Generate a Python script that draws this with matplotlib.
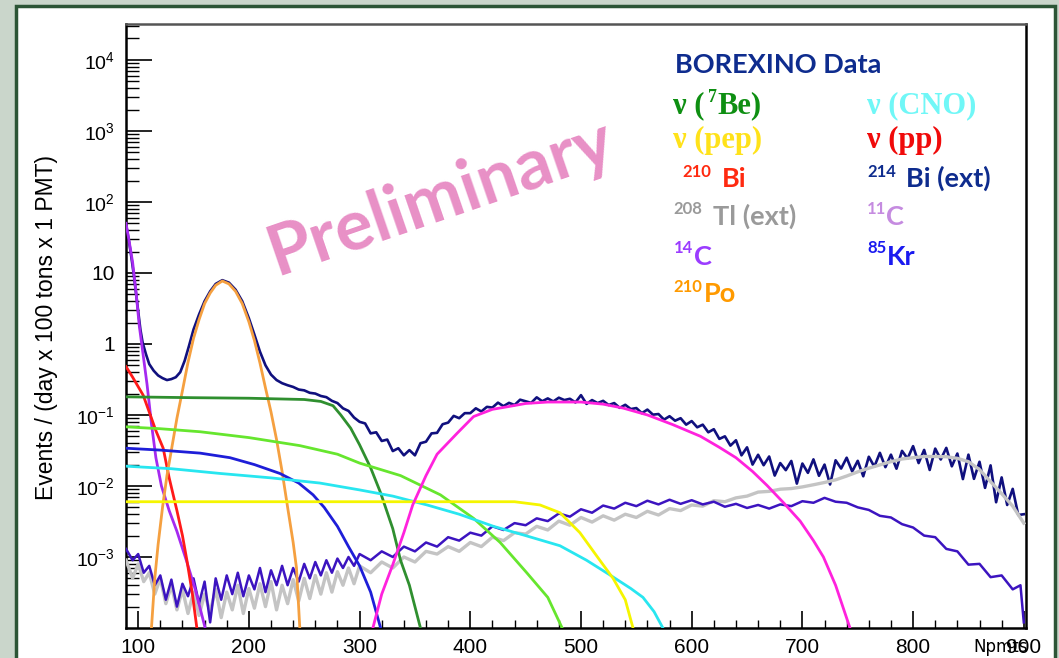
import matplotlib
matplotlib.use("Agg")
import matplotlib.pyplot as plt
from matplotlib.patches import Rectangle
from matplotlib.ticker import FixedLocator, FixedFormatter, MultipleLocator, LogLocator, NullFormatter

plt.rcParams['font.family'] = ['Liberation Sans', 'DejaVu Sans']

# ---- data ----
# BOREXINO data (Npmts, events)
data_x = [90, 92, 94, 96, 98, 100, 102, 104, 107, 110, 114, 118, 122, 126, 130, 134, 138, 142, 146, 150,
          155, 160, 165, 170, 176, 182, 188, 194, 200, 205, 210, 215, 220, 225, 230, 235, 240, 245, 250,
          255, 260, 265, 270, 275, 280, 285, 290, 295,
          300, 305, 310, 315, 320, 325, 330, 335, 340, 345, 350, 355, 360, 365, 370, 375, 380, 385, 390,
          395, 400, 405, 410, 415, 420, 425, 430, 435, 440, 445, 450, 455, 460, 465, 470, 475, 480, 485,
          490, 495, 500, 505, 510, 515, 520, 525, 530, 535, 540, 545, 550, 555, 560, 565, 570, 575, 580,
          585, 590, 595, 600, 605, 610, 615, 620, 625, 630, 635, 640, 645, 650, 655, 660, 665, 670, 675,
          680, 685, 690, 695, 700, 705, 710, 715, 720, 725, 730, 735, 740, 745, 750, 755, 760, 765, 770,
          775, 780, 785, 790, 795, 800, 805, 810, 815, 820, 825, 830, 835, 840, 845, 850, 855, 860, 865,
          870, 875, 880, 885, 890, 895, 900]
data_y = [40, 26, 16, 9.5, 5.2, 2.8, 1.6, 1.05, 0.72, 0.52, 0.42, 0.36, 0.33, 0.31, 0.32, 0.34, 0.40, 0.58, 0.95, 1.6,
          2.6, 4.0, 5.5, 7.0, 7.9, 7.3, 5.8, 4.0, 2.3, 1.35, 0.78, 0.5, 0.37, 0.31, 0.28, 0.262, 0.248, 0.228, 0.222,
          0.205, 0.2, 0.185, 0.178, 0.158, 0.147, 0.124, 0.114, 0.092,
          0.080, 0.076, 0.055, 0.057, 0.043, 0.045, 0.031, 0.034, 0.027, 0.032, 0.027, 0.040, 0.042, 0.055, 0.056,
          0.074, 0.078, 0.097, 0.090, 0.106, 0.106, 0.124, 0.112, 0.130, 0.127, 0.149, 0.133, 0.148, 0.138, 0.164,
          0.156, 0.148, 0.177, 0.156, 0.171, 0.155, 0.175, 0.162, 0.169, 0.150, 0.190, 0.143, 0.162, 0.147, 0.158,
          0.138, 0.147, 0.126, 0.139, 0.121, 0.125, 0.106, 0.119, 0.101, 0.103, 0.086, 0.096, 0.083, 0.090, 0.073,
          0.082, 0.067, 0.073, 0.057, 0.063, 0.046, 0.050, 0.037, 0.044, 0.027, 0.035, 0.020, 0.0275, 0.0196, 0.026,
          0.014, 0.021, 0.0167, 0.0225, 0.0108, 0.0207, 0.0153, 0.0237, 0.0139, 0.020, 0.0105, 0.023, 0.0176, 0.025,
          0.016, 0.0226, 0.0137, 0.0258, 0.0187, 0.0293, 0.0184, 0.0276, 0.0175, 0.0312, 0.0243, 0.0364, 0.021,
          0.0322, 0.0168, 0.0336, 0.0236, 0.0344, 0.0189, 0.0286, 0.0125, 0.0276, 0.0126, 0.0219, 0.0094, 0.0195,
          0.0059, 0.0132, 0.0054, 0.0091, 0.0039, 0.004]

# 208Tl external (grey)
tl_x = [89, 95, 100, 105, 110, 115, 120, 125, 130, 135, 140, 145, 150, 155, 160, 165, 170, 175, 180, 185,
        190, 195, 200, 205, 210, 215, 220, 225, 230, 235, 240, 245, 250, 255, 260, 265, 270, 275, 280, 285,
        290, 295, 300, 310, 320, 330, 340, 350, 360, 370, 380, 390, 400, 410, 420, 430, 440, 450, 460, 470,
        480, 490, 500, 510, 520, 530, 540, 550, 560, 570, 580, 590, 600, 610, 620, 630, 640, 650, 660, 670,
        680, 690, 700, 710, 720, 730, 740, 750, 760, 770, 780, 790, 800, 810, 820, 830, 840, 850, 860, 870,
        880, 890, 900]
tl_y = [0.0009, 0.0005, 0.0008, 0.00045, 0.0006, 0.0003, 0.0005, 0.00022, 0.0004, 0.00018, 0.00035, 0.00016,
        0.00032, 0.00015, 0.0003, 0.00017, 0.00035, 0.00014, 0.00032, 0.00018, 0.0004, 0.00016, 0.00036, 0.00019,
        0.00042, 0.0002, 0.00045, 0.00018, 0.0004, 0.00022, 0.00048, 0.00024, 0.0005, 0.00026, 0.00055, 0.0003,
        0.0006, 0.00032, 0.00062, 0.0004, 0.0007, 0.00042, 0.00075, 0.0006, 0.00085, 0.0007, 0.001, 0.00085,
        0.0012, 0.0011, 0.0014, 0.0012, 0.0016, 0.0014, 0.0019, 0.0017, 0.0022, 0.0021, 0.0027, 0.0024, 0.0032,
        0.0028, 0.0036, 0.0031, 0.0038, 0.0033, 0.0040, 0.0036, 0.0044, 0.0039, 0.0048, 0.0045, 0.0054, 0.0052,
        0.0062, 0.0060, 0.0068, 0.0072, 0.0082, 0.0084, 0.0090, 0.0092, 0.0097, 0.0104, 0.0112, 0.0122, 0.0138,
        0.0158, 0.0178, 0.0198, 0.022, 0.024, 0.025, 0.026, 0.026, 0.0258, 0.0245, 0.022, 0.017, 0.0115, 0.0078,
        0.0052, 0.0030]

# 214Bi external (indigo)
bi214_x = [89, 95, 100, 105, 110, 115, 120, 125, 130, 135, 140, 145, 150, 155, 160, 165, 170, 175, 180, 185,
           190, 195, 200, 205, 210, 215, 220, 225, 230, 235, 240, 245, 250, 255, 260, 265, 270, 275, 280, 285,
           290, 295, 300, 310, 320, 330, 340, 350, 360, 370, 380, 390, 400, 410, 420, 430, 440, 450, 460, 470,
           480, 490, 500, 510, 520, 530, 540, 550, 560, 570, 580, 590, 600, 610, 620, 630, 640, 650, 660, 670,
           680, 690, 700, 710, 720, 730, 740, 750, 760, 770, 780, 790, 800, 810, 820, 830, 840, 850, 860, 870,
           880, 890, 897, 900]
bi214_y = [0.0013, 0.0009, 0.0011, 0.0006, 0.00075, 0.0004, 0.00055, 0.00025, 0.00048, 0.0002, 0.00042, 0.00028,
           0.0005, 0.00022, 0.00045, 0.00012, 0.0005, 0.00025, 0.00055, 0.0003, 0.0006, 0.00028, 0.00055, 0.00035,
           0.0007, 0.00032, 0.00065, 0.0004, 0.00075, 0.0004, 0.0007, 0.00045, 0.0008, 0.0005, 0.00085, 0.00055,
           0.0009, 0.0006, 0.00095, 0.0007, 0.001, 0.00075, 0.0011, 0.0009, 0.0012, 0.001, 0.0014, 0.0012, 0.0016,
           0.0014, 0.0019, 0.0017, 0.0022, 0.002, 0.0027, 0.0024, 0.003, 0.0028, 0.0035, 0.0032, 0.0041, 0.0037,
           0.0047, 0.0042, 0.0053, 0.0048, 0.0058, 0.0052, 0.0062, 0.0055, 0.0064, 0.0056, 0.0063, 0.0055, 0.006,
           0.0051, 0.0056, 0.0049, 0.0054, 0.0048, 0.0055, 0.0052, 0.0061, 0.0058, 0.0068, 0.006, 0.0058, 0.005,
           0.0046, 0.0038, 0.0036, 0.0029, 0.0026, 0.002, 0.0019, 0.0013, 0.0012, 0.00078, 0.0008, 0.00052,
           0.00055, 0.00035, 0.0004, 0.00012]

# 14C (purple)
c14_x = [89, 92, 95, 98, 101, 104, 108, 112, 116, 121, 128, 135, 144, 152, 160.5]
c14_y = [50, 27, 14, 5.5, 1.8, 0.8, 0.27, 0.075, 0.025, 0.01, 0.0045, 0.0023, 0.00085, 0.00033, 0.0001]

# pp neutrinos (red)
pp_x = [89, 95, 100, 104.5, 110, 116, 122.6, 128, 135, 140, 144, 149, 153]
pp_y = [0.48, 0.34, 0.25, 0.19, 0.11, 0.06, 0.034, 0.013, 0.0045, 0.002, 0.0009, 0.0003, 0.0001]

# 210Po (orange)
po_x = [112, 115, 118, 122, 126, 130, 135, 140, 145, 150, 155, 160, 165, 170, 176, 182, 188, 194, 200, 205,
        210, 215, 220, 225, 230, 235, 240, 243, 246]
po_y = [0.0001, 0.0005, 0.0015, 0.005, 0.014, 0.032, 0.09, 0.22, 0.55, 1.2, 2.2, 3.7, 5.2, 6.7, 7.7, 7.0, 5.5,
        3.7, 2.05, 1.12, 0.54, 0.24, 0.11, 0.045, 0.016, 0.005, 0.0016, 0.0007, 0.0001]

# 7Be neutrinos (dark green)
be7_x = [89, 150, 200, 250, 265, 276, 283, 292, 300, 310, 319, 330, 337, 345, 355]
be7_y = [0.18, 0.175, 0.172, 0.165, 0.155, 0.135, 0.1, 0.065, 0.038, 0.018, 0.008, 0.0025, 0.0009, 0.0004, 0.0001]

# 210Bi (light green)
bi210_x = [89, 120, 156, 200, 246, 280, 300, 337, 373, 403, 427, 451, 470, 483]
bi210_y = [0.068, 0.064, 0.058, 0.048, 0.037, 0.028, 0.021, 0.014, 0.0075, 0.0035, 0.0016, 0.0006, 0.00027, 0.0001]

# 85Kr (blue)
kr_x = [89, 120, 156, 183, 205, 228, 245, 258, 268, 280, 290, 300, 310, 319]
kr_y = [0.034, 0.032, 0.029, 0.025, 0.02, 0.015, 0.011, 0.0075, 0.005, 0.0027, 0.0014, 0.00075, 0.00032, 0.0001]

# CNO neutrinos (cyan)
cno_x = [89, 130, 174, 220, 264, 300, 330, 361, 390, 421, 450, 481, 505, 526, 545, 556, 566, 574]
cno_y = [0.019, 0.0175, 0.015, 0.013, 0.011, 0.0088, 0.0072, 0.0054, 0.004, 0.0027, 0.002, 0.00144, 0.0009,
         0.00056, 0.00036, 0.00027, 0.00017, 0.0001]

# pep neutrinos (yellow)
pep_x = [89, 200, 300, 400, 440, 463, 481, 499, 517, 529, 540, 547]
pep_y = [0.006, 0.006, 0.006, 0.006, 0.006, 0.0054, 0.0042, 0.0022, 0.0009, 0.0005, 0.00025, 0.0001]

# 11C (magenta)
c11_x = [312, 320, 330, 340, 348, 360, 370, 388, 403, 420, 433, 450, 470, 500, 520, 538, 560, 583, 608, 625,
         640, 655, 668, 683, 698, 710, 719, 730, 743]
c11_y = [0.0001, 0.0003, 0.00078, 0.0022, 0.0054, 0.014, 0.028, 0.055, 0.095, 0.12, 0.13, 0.145, 0.152, 0.152,
         0.142, 0.125, 0.1, 0.073, 0.05, 0.035, 0.025, 0.016, 0.0102, 0.0058, 0.0032, 0.0017, 0.001, 0.0004, 0.0001]

y_ticks = [1e-3, 1e-2, 1e-1, 1, 10, 1e2, 1e3, 1e4]
y_ticklabels = [r'$\mathregular{10^{-3}}$', r'$\mathregular{10^{-2}}$', r'$\mathregular{10^{-1}}$', '1', '10',
                r'$\mathregular{10^{2}}$', r'$\mathregular{10^{3}}$', r'$\mathregular{10^{4}}$']

W, H = 1059, 658
fig = plt.figure(figsize=(W / 100, H / 100), dpi=100)
fig.patch.set_facecolor('#cad6cb')
fig.patches.append(Rectangle((16 / W, -0.05), (1055 - 16) / W, 1.05 - 6 / H, transform=fig.transFigure,
                             facecolor='white', edgecolor='#2c5536', linewidth=2.5, zorder=-5))

ax = fig.add_axes([126 / W, 1 - 628 / H, 900 / W, 604 / H])
ax.set_zorder(1)
ax.set_yscale('log')
ax.set_xlim(89, 902)
ax.set_ylim(1e-4, 3.2e4)

# spectra
ax.plot(data_x, data_y, color='#10107e', lw=1.9, zorder=2)
ax.plot(tl_x, tl_y, color='#c4c4c4', lw=2.4, zorder=3)
ax.plot(bi214_x, bi214_y, color='#3c14c0', lw=1.8, zorder=3)
ax.plot(c14_x, c14_y, color='#a52af0', lw=2, zorder=4)
ax.plot(pp_x, pp_y, color='#ff1a1a', lw=2, zorder=4)
ax.plot(po_x, po_y, color='#f5a040', lw=2, zorder=4)
ax.plot(be7_x, be7_y, color='#2f8f2f', lw=2, zorder=4)
ax.plot(bi210_x, bi210_y, color='#66e62e', lw=2, zorder=4)
ax.plot(kr_x, kr_y, color='#1e1ed8', lw=2, zorder=4)
ax.plot(cno_x, cno_y, color='#28e6f0', lw=2, zorder=4)
ax.plot(pep_x, pep_y, color='#f5f500', lw=2, zorder=4)
ax.plot(c11_x, c11_y, color='#ff22dd', lw=2, zorder=4)

# axes styling, ROOT-like
for s in ax.spines.values():
    s.set_linewidth(1.8)
    s.set_color('black')
ax.spines['top'].set_color('#555555')

ax.yaxis.set_major_locator(FixedLocator(y_ticks))
ax.yaxis.set_major_formatter(FixedFormatter(y_ticklabels))
ax.yaxis.set_minor_locator(LogLocator(base=10, subs=range(2, 10), numticks=100))
ax.yaxis.set_minor_formatter(NullFormatter())
ax.xaxis.set_major_locator(MultipleLocator(100))
ax.xaxis.set_minor_locator(MultipleLocator(20))

ax.tick_params(axis='y', which='major', direction='in', length=19, width=1.2, pad=8, labelsize=15, right=False)
ax.tick_params(axis='y', which='minor', direction='in', length=9, width=1.0, right=False)
ax.tick_params(axis='x', which='major', direction='in', length=12, width=1.2, pad=7, labelsize=15, top=False)
ax.tick_params(axis='x', which='minor', direction='in', length=5.5, width=1.0, top=False)
for lbl in ax.get_yticklabels():
    if lbl.get_text() not in ('1', '10'):
        lbl.set_fontsize(14)


def ftext(x, y, s, **kw):
    fig.text(x / W, 1 - y / H, s, ha='left', va='baseline', **kw)


fig.text(47 / W, 1 - 328 / H, 'Events / (day x 100 tons x 1 PMT)', rotation=90, ha='center', va='center',
         fontsize=16.5)
fig.text(1028 / W, 1 - 652 / H, 'Npmts', ha='right', va='baseline', fontsize=12, family='DejaVu Sans', zorder=5)

fig.text(440 / W, 1 - 198 / H, 'Preliminary', rotation=19, ha='center', va='center', color='#e890c6',
         fontsize=51, family='Lato', weight='bold', zorder=5)

# legend text block
sans = dict(family='Lato', weight='bold', zorder=5)
serif = dict(family='Liberation Serif', weight='bold', zorder=5)
ftext(675, 73, 'BOREXINO Data', color='#0e2c8e', fontsize=19.5, **sans)

ftext(673, 113, 'ν (', color='#0e8f12', fontsize=22, **serif)
ftext(708, 102, '7', color='#0e8f12', fontsize=13, **serif)
ftext(717, 113, 'Be)', color='#0e8f12', fontsize=22, **serif)
ftext(867, 113, 'ν (CNO)', color='#70f7f7', fontsize=22, **serif)
ftext(673, 148, 'ν (pep)', color='#ffe21a', fontsize=22, **serif)
ftext(867, 148, 'ν (pp)', color='#f00a0a', fontsize=22, **serif)

ftext(682, 177, '210', color='#ff2a10', fontsize=12, **sans)
ftext(722, 187, 'Bi', color='#ff2a10', fontsize=19.5, **sans)
ftext(867, 177, '214', color='#0e2c8e', fontsize=12, **sans)
ftext(906, 187, 'Bi (ext)', color='#0e2c8e', fontsize=19.5, **sans)

ftext(673, 214, '208', color='#9a9a9a', fontsize=12, **sans)
ftext(713, 225, 'Tl (ext)', color='#9a9a9a', fontsize=19.5, **sans)
ftext(867, 214, '11', color='#c58be0', fontsize=12, **sans)
ftext(886, 225, 'C', color='#c58be0', fontsize=19.5, **sans)

ftext(674, 253, '14', color='#9b3cff', fontsize=12, **sans)
ftext(694, 265, 'C', color='#9b3cff', fontsize=19.5, **sans)
ftext(867, 253, '85', color='#1a1af0', fontsize=12, **sans)
ftext(887, 265, 'Kr', color='#1a1af0', fontsize=19.5, **sans)

ftext(673, 292, '210', color='#ff9a00', fontsize=12, **sans)
ftext(704, 302, 'Po', color='#ff9a00', fontsize=19.5, **sans)

fig.savefig('out.png', dpi=100, facecolor=fig.get_facecolor())
